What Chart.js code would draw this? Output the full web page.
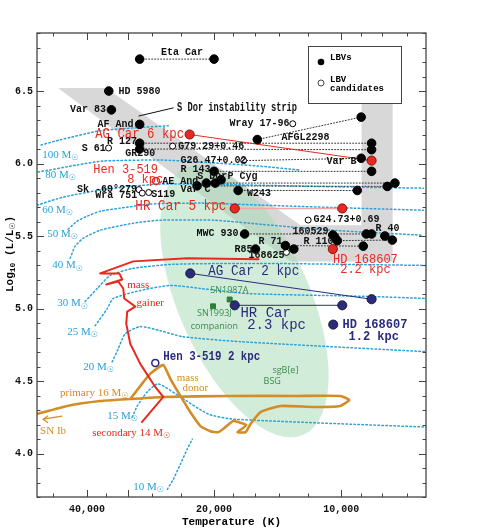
<!DOCTYPE html>
<html>
<head>
<meta charset="utf-8">
<script src="https://cdn.jsdelivr.net/npm/chart.js@4.4.0/dist/chart.umd.min.js"></script>
<style>
  html, body { margin: 0; padding: 0; background: #fff; }
</style>
</head>
<body>
<canvas id="hrd" width="499" height="528"></canvas>
<script>
// ---- data: [temperature K, log L] ----
const lbvStars = [
  [30000, 6.72], [20000, 6.72], [35500, 6.50], [35000, 6.37], [30000, 6.27],
  [30000, 6.14], [30000, 6.10], [15800, 6.165], [8970, 6.32], [8475, 6.14],
  [8475, 6.095], [8970, 6.036], [8475, 5.946], [20000, 5.946], [19250, 5.888],
  [19870, 5.865], [20860, 5.865], [21940, 5.846], [17540, 5.814], [7780, 5.842],
  [7463, 5.865], [9164, 5.814], [16930, 5.514], [10470, 5.507], [10355, 5.49],
  [10220, 5.468], [8724, 5.514], [8475, 5.514], [7883, 5.50], [7569, 5.472],
  [8870, 5.43], [13555, 5.434], [12950, 5.41], [15960, 5.41]
];
const lbvCandidates = [
  [35550, 6.107], [25070, 6.12], [13025, 6.274], [17020, 6.02], [30120, 5.82],
  [29580, 5.796], [28550, 5.80], [11975, 5.61], [13480, 5.387]
];
// dotted links between the hot and cool states of one star
const dottedLinks = [
  [[30000, 6.72], [20000, 6.72]],
  [[15800, 6.165], [8970, 6.32]],
  [[30000, 6.14], [8475, 6.14]],
  [[30000, 6.10], [8475, 6.095]],
  [[17020, 6.02], [8970, 6.036]],
  [[20000, 5.946], [8475, 5.946]],
  [[19870, 5.865], [7463, 5.865]],
  [[21940, 5.846], [7780, 5.842]],
  [[17540, 5.814], [9164, 5.814]],
  [[16930, 5.514], [8724, 5.514]],
  [[13555, 5.434], [8870, 5.43]],
  [[10220, 5.468], [7569, 5.472]]
];
const agCar6kpc = [[22850, 6.20], [8475, 6.02]];
const hrCar5kpc = [[17870, 5.69], [9945, 5.69]];
const hd168607far = [[10470, 5.41]];
const hen3519far = [[27450, 5.88]];
const agCar2kpc = [[22770, 5.242], [8475, 5.064]];
const hrCar23kpc = [[17870, 5.022], [9945, 5.022]];
const hd168607near = [[10446, 4.889]];
const hen3519near = [[27550, 4.625]];
const snCompanions = [[18370, 5.062], [20110, 5.015]];

// evolutionary tracks (single stars)
const track100 = [[51330, 6.128], [46290, 6.163], [37200, 6.226], [30720, 6.246], [25670, 6.26]];
const track80 = [[52180, 5.941], [42180, 5.99], [36600, 6.017], [26820, 6.024], [21540, 6.01], [15790, 5.983], [12485, 5.955]];
const track60 = [[52470, 5.713], [45520, 5.768], [37200, 5.817], [31070, 5.844], [26820, 5.858], [21540, 5.858], [12485, 5.844], [9350, 5.837], [6390, 5.83]];
const track50 = [[44300, 5.547], [42180, 5.602], [39930, 5.637], [37200, 5.671], [33360, 5.692], [28330, 5.72], [21540, 5.727], [15530, 5.713], [9350, 5.692], [6390, 5.678]];
const track40 = [[43820, 5.346], [42640, 5.43], [40820, 5.484], [37200, 5.54], [31070, 5.588], [26820, 5.609], [20000, 5.609], [15530, 5.581], [10600, 5.54], [6390, 5.505]];
const track30 = [[40370, 5.048], [37810, 5.138], [35220, 5.228], [31070, 5.277], [24970, 5.305], [15530, 5.311], [6290, 5.297]];
const track25 = [[38230, 4.882], [35780, 5.0], [34650, 5.069], [29900, 5.124], [25380, 5.159], [21540, 5.138], [16700, 5.103], [8525, 5.083], [6290, 5.069]];
const track20 = [[34850, 4.632], [33720, 4.722], [32460, 4.826], [29900, 4.875], [26820, 4.847], [23770, 4.806], [17320, 4.771], [6290, 4.702]];
const track15 = [[31240, 4.251], [30400, 4.328], [28790, 4.425], [27110, 4.48], [24030, 4.39], [20640, 4.272], [17990, 4.237], [6290, 4.182]];
const track10 = [[25800, 3.753], [24970, 3.822], [24030, 3.926], [23150, 4.03], [22520, 4.099]];
const trackMasses = ['100', '80', '60', '50', '40', '30', '25', '20', '15', '10'];

// binary model: secondary (mass gainer) and primary (mass donor)
const gainerTrack = [[29640, 4.217], [26380, 4.39], [27560, 4.459], [29900, 4.618], [31580, 4.757], [32280, 4.896], [32110, 4.979], [30720, 5.013], [32630, 5.069], [32810, 5.138], [33720, 5.186], [36000, 5.166], [32980, 5.2], [33530, 5.242], [37200, 5.242], [31070, 5.325], [23150, 5.346], [15700, 5.339]];
const donorTrack = [[31580, 4.376], [29900, 4.466], [28330, 4.549], [26380, 4.611], [25380, 4.514], [24030, 4.397], [22770, 4.286], [21540, 4.189], [20410, 4.154], [19560, 4.147], [18800, 4.182], [17990, 4.224], [16770, 4.196], [17600, 4.147], [16840, 4.147], [16400, 4.203], [15530, 4.286], [13920, 4.328], [11630, 4.321], [10050, 4.328], [9570, 4.369], [10050, 4.397], [12700, 4.397], [18290, 4.397], [26380, 4.39], [31580, 4.376], [37200, 4.362], [44540, 4.328], [52470, 4.272]];

// shaded regions
const sDorStrip = [[46800, 6.52], [36000, 6.52], [12485, 5.574], [8950, 5.574], [8950, 6.433], [7557, 6.433], [7557, 5.325], [13190, 5.325]];
const bsgCentre = [16950, 5.05];
const bsgTip = [12285, 4.13];

// axis ticks
const xTickValues = [48000, 40000, 36000, 32000, 28000, 24000, 20000, 18000, 16000, 14000, 12000, 10000, 9000, 8000, 7000];
const xTickLabelled = [40000, 20000, 10000];
const yTickLabelled = [4.0, 4.5, 5.0, 5.5, 6.0, 6.5];

// ---- styles ----
const RED = '#e8291f', NAVY = '#2b2b7d', BLUE = '#2aa0d8', ORANGE = '#d38c26', GREEN = '#2f7d3b';
const styles = {
  n:  { font: 'bold 10px "Liberation Mono"', color: '#111' },
  s:  { font: 'bold 12px "Liberation Mono"', color: '#111' },
  r:  { font: '14px "Liberation Mono"', color: RED },
  rm: { font: '12px "Liberation Mono"', color: RED },
  v:  { font: '14px "Liberation Mono"', color: NAVY },
  vm: { font: 'bold 12px "Liberation Mono"', color: NAVY },
  g:  { font: '9px "Open Sans"', color: '#3b8a4a' },
  t:  { font: '11px "Liberation Serif"', color: BLUE, sub: '8px "DejaVu Sans"' },
  o:  { font: '11px "Liberation Serif"', color: ORANGE, sub: '8px "DejaVu Sans"' },
  rs: { font: '11px "Liberation Serif"', color: RED, sub: '8px "DejaVu Sans"' }
};
// [text, T, logL, align, style, maxWidth]
const textLabels = [
  ['Eta Car', 23820, 6.765, 'center', 'n'],
  ['HD 5980', 33660, 6.50, 'left', 'n'],
  ['Var 83', 36060, 6.373, 'right', 'n'],
  ['S Dor instability strip', 24470, 6.384, 'left', 's', 120],
  ['AF And', 31020, 6.269, 'right', 'n'],
  ['AG Car 6 kpc', 38230, 6.204, 'left', 'r', 89],
  ['R 127', 35860, 6.149, 'left', 'n'],
  ['S 61', 41110, 6.107, 'left', 'n'],
  ['GR290', 32460, 6.066, 'left', 'n'],
  ['G79.29+0.46', 24300, 6.119, 'left', 'n'],
  ['Wray 17-96', 18390, 6.274, 'left', 'n'],
  ['AFGL2298', 13855, 6.177, 'left', 'n'],
  ['Var B', 9197, 6.015, 'right', 'n'],
  ['G26.47+0.02', 24030, 6.019, 'left', 'n'],
  ['R 143', 24030, 5.957, 'left', 'n'],
  ['S Dor', 21910, 5.913, 'left', 'n'],
  ['P Cyg', 18590, 5.913, 'left', 'n'],
  ['AE And', 26530, 5.879, 'left', 'n'],
  ['Var C', 24030, 5.819, 'left', 'n'],
  ['W243', 16710, 5.796, 'left', 'n'],
  ['Hen 3-519', 38650, 5.957, 'left', 'rm'],
  ['8 kpc', 32110, 5.886, 'left', 'rm'],
  ['Sk -69°279', 42240, 5.819, 'left', 'n'],
  ['Wra 751', 38230, 5.78, 'left', 'n'],
  ['S119', 28150, 5.789, 'left', 'n'],
  ['HR Car 5 kpc', 30720, 5.704, 'left', 'r', 91],
  ['MWC 930', 17510, 5.514, 'right', 'n'],
  ['G24.73+0.69', 11630, 5.611, 'left', 'n'],
  ['160529', 10720, 5.53, 'right', 'n'],
  ['R 71', 15700, 5.461, 'left', 'n'],
  ['R 110', 12290, 5.465, 'left', 'n'],
  ['R 40', 8294, 5.553, 'left', 'n'],
  ['R85', 16230, 5.41, 'right', 'n'],
  ['168625', 16580, 5.364, 'left', 'n'],
  ['HD 168607', 8765, 5.334, 'center', 'rm'],
  ['2.2 kpc', 8765, 5.265, 'center', 'rm'],
  ['AG Car 2 kpc', 20640, 5.256, 'left', 'v', 91],
  ['SN1987A', 20410, 5.126, 'left', 'g'],
  ['SN1993J', 19970, 4.965, 'center', 'g'],
  ['companion', 19970, 4.873, 'center', 'g'],
  ['HR Car', 17320, 4.965, 'left', 'v'],
  ['2.3 kpc', 16700, 4.884, 'left', 'v'],
  ['HD 168607', 9929, 4.889, 'left', 'vm'],
  ['1.2 kpc', 9610, 4.807, 'left', 'vm'],
  ['Hen 3-519 2 kpc', 26380, 4.665, 'left', 'vm', 97],
  ['sgB[e]', 14550, 4.572, 'left', 'g'],
  ['BSG', 15270, 4.496, 'left', 'g'],
  ['mass', 30230, 5.161, 'center', 'rs'],
  ['gainer', 28330, 5.034, 'center', 'rs'],
  ['mass', 23080, 4.521, 'center', 'o'],
  ['donor', 22150, 4.45, 'center', 'o'],
  ['primary 16 M☉', 46290, 4.416, 'left', 'o'],
  ['secondary 14 M☉', 38860, 4.139, 'left', 'rs'],
  ['SN Ib', 51620, 4.157, 'left', 'o']
];
const trackLabelPos = [[51050, 6.059], [50220, 5.92], [51050, 5.678], [49680, 5.512], [48340, 5.297], [47040, 5.034], [44540, 4.84], [40820, 4.598], [35800, 4.258], [31070, 3.767]];
const stripPointer = [[30190, 6.327], [24930, 6.384]];
const snIbArrow = [[45770, 4.258], [50780, 4.237]];

// ---- helpers ----
const pts = arr => arr.map(([t, l]) => ({ x: t, y: l }));
const lineSet = (arr, color, width, dash, order, tension) => ({
  data: pts(arr), showLine: true, borderColor: color, borderWidth: width,
  borderDash: dash || [], pointRadius: 0, tension: tension || 0, order: order,
  borderJoinStyle: 'round', borderCapStyle: 'round'
});

function drawLabel(ctx, x, y, item) {
  const [txt, t, l, align, key, maxW] = item;
  const st = styles[key];
  const px = x.getPixelForValue(t), py = y.getPixelForValue(l);
  ctx.font = st.font; ctx.fillStyle = st.color; ctx.textBaseline = 'middle';
  const parts = txt.split('☉');
  if (parts.length === 1) {
    ctx.textAlign = align;
    if (maxW) ctx.fillText(txt, px, py, maxW); else ctx.fillText(txt, px, py);
    return;
  }
  ctx.textAlign = 'left';
  ctx.fillText(parts[0], px, py);
  const w = ctx.measureText(parts[0]).width;
  ctx.font = st.sub;
  ctx.fillText('☉', px + w, py + 3);
}

const hrdDecor = {
  id: 'hrdDecor',
  beforeDatasetsDraw(chart) {
    const { ctx, chartArea: a, scales: { x, y } } = chart;
    ctx.save();
    ctx.beginPath(); ctx.rect(a.left, a.top, a.width, a.height); ctx.clip();
    ctx.fillStyle = '#d8d8d8';
    ctx.beginPath();
    sDorStrip.forEach(([t, l], i) => {
      const px = x.getPixelForValue(t), py = y.getPixelForValue(l);
      if (i) ctx.lineTo(px, py); else ctx.moveTo(px, py);
    });
    ctx.closePath(); ctx.fill();
    const cx = x.getPixelForValue(bsgCentre[0]), cy = y.getPixelForValue(bsgCentre[1]);
    const ex = x.getPixelForValue(bsgTip[0]), ey = y.getPixelForValue(bsgTip[1]);
    const ra = Math.hypot(ex - cx, ey - cy);
    ctx.fillStyle = 'rgba(165,218,182,0.5)';
    ctx.beginPath();
    ctx.ellipse(cx, cy, ra, ra * 0.45, Math.atan2(ey - cy, ex - cx), 0, Math.PI * 2);
    ctx.fill();
    ctx.restore();
  },
  afterDraw(chart) {
    const { ctx, chartArea: a, scales: { x, y } } = chart;
    ctx.save();
    // frame and inward ticks
    ctx.strokeStyle = '#444'; ctx.lineWidth = 1.3;
    ctx.strokeRect(a.left, a.top, a.width, a.height);
    ctx.lineWidth = 1;
    ctx.beginPath();
    xTickValues.forEach(v => {
      const px = Math.round(x.getPixelForValue(v)) + 0.5;
      const len = xTickLabelled.includes(v) || v === 32000 ? 7 : 3.5;
      ctx.moveTo(px, a.bottom); ctx.lineTo(px, a.bottom - len);
      ctx.moveTo(px, a.top); ctx.lineTo(px, a.top + len);
    });
    for (let k = 37; k <= 69; k++) {
      const py = Math.round(y.getPixelForValue(k / 10)) + 0.5;
      const len = k % 5 === 0 ? 7 : 3.5;
      ctx.moveTo(a.left, py); ctx.lineTo(a.left + len, py);
      ctx.moveTo(a.right, py); ctx.lineTo(a.right - len, py);
    }
    ctx.stroke();

    // pointer and arrow
    ctx.beginPath();
    ctx.strokeStyle = '#111';
    ctx.moveTo(x.getPixelForValue(stripPointer[0][0]), y.getPixelForValue(stripPointer[0][1]));
    ctx.lineTo(x.getPixelForValue(stripPointer[1][0]), y.getPixelForValue(stripPointer[1][1]));
    ctx.stroke();
    const ax0 = x.getPixelForValue(snIbArrow[0][0]), ay0 = y.getPixelForValue(snIbArrow[0][1]);
    const ax1 = x.getPixelForValue(snIbArrow[1][0]), ay1 = y.getPixelForValue(snIbArrow[1][1]);
    ctx.strokeStyle = ORANGE; ctx.lineWidth = 1.2;
    ctx.beginPath();
    ctx.moveTo(ax0, ay0); ctx.lineTo(ax1, ay1);
    ctx.moveTo(ax1 + 5, ay1 - 3.5); ctx.lineTo(ax1, ay1); ctx.lineTo(ax1 + 5, ay1 + 3.5);
    ctx.stroke();

    // labels
    textLabels.forEach(item => drawLabel(ctx, x, y, item));
    trackMasses.forEach((m, i) => drawLabel(ctx, x, y, [m + ' M☉', trackLabelPos[i][0], trackLabelPos[i][1], 'left', 't']));

    // legend box
    const lx = a.right - 118, ly = a.top + 13;
    ctx.fillStyle = '#fff'; ctx.strokeStyle = '#444'; ctx.lineWidth = 1;
    ctx.fillRect(lx, ly, 94, 58); ctx.strokeRect(lx + 0.5, ly + 0.5, 93, 57);
    ctx.fillStyle = '#000';
    ctx.beginPath(); ctx.arc(lx + 13, ly + 16, 3.3, 0, Math.PI * 2); ctx.fill();
    ctx.beginPath(); ctx.arc(lx + 13, ly + 37, 3, 0, Math.PI * 2); ctx.stroke();
    ctx.font = 'bold 9px "Liberation Mono"'; ctx.textAlign = 'left'; ctx.textBaseline = 'middle';
    ctx.fillText('LBVs', lx + 22, ly + 12);
    ctx.fillText('LBV', lx + 22, ly + 34);
    ctx.fillText('candidates', lx + 22, ly + 43);

    // axis titles
    ctx.font = 'bold 11px "Liberation Mono"'; ctx.textAlign = 'center';
    ctx.fillText('Temperature (K)', (a.left + a.right) / 2, 522);
    ctx.translate(10, (a.top + a.bottom) / 2 - 11);
    ctx.rotate(-Math.PI / 2);
    const segs = [['Log', 0], ['10', 1], [' (L/L', 0], ['☉', 1], [')', 0]];
    let total = 0;
    segs.forEach(([s, sub]) => { ctx.font = sub ? 'bold 8px "Liberation Mono"' : 'bold 11px "Liberation Mono"'; total += ctx.measureText(s).width; });
    let cur = -total / 2;
    ctx.textAlign = 'left';
    segs.forEach(([s, sub]) => {
      ctx.font = sub ? (s === '☉' ? '8px "DejaVu Sans"' : 'bold 8px "Liberation Mono"') : 'bold 11px "Liberation Mono"';
      ctx.fillText(s, cur, sub ? 3 : 0);
      cur += ctx.measureText(s).width;
    });
    ctx.restore();
  }
};

const datasets = [
  // points on top
  { data: pts(lbvStars), pointRadius: 4.3, pointBackgroundColor: '#000', pointBorderColor: '#000', order: 0 },
  { data: pts(lbvCandidates), pointRadius: 3, pointBackgroundColor: '#fff', pointBorderColor: '#000', pointBorderWidth: 1, order: 0 },
  { data: pts([agCar6kpc[0], agCar6kpc[1], hrCar5kpc[0], hrCar5kpc[1], hd168607far[0]]), pointRadius: 4.6, pointBackgroundColor: RED, pointBorderColor: '#600', pointBorderWidth: 0.8, order: 0 },
  { data: pts(hen3519far), pointRadius: 3.5, pointBackgroundColor: 'rgba(0,0,0,0)', pointBorderColor: RED, pointBorderWidth: 1.5, order: 0 },
  { data: pts([agCar2kpc[0], agCar2kpc[1], hrCar23kpc[0], hrCar23kpc[1], hd168607near[0]]), pointRadius: 4.6, pointBackgroundColor: NAVY, pointBorderColor: '#111', pointBorderWidth: 0.8, order: 0 },
  { data: pts(hen3519near), pointRadius: 3.5, pointBackgroundColor: 'rgba(0,0,0,0)', pointBorderColor: NAVY, pointBorderWidth: 1.5, order: 0 },
  { data: pts(snCompanions), pointStyle: 'rect', pointRadius: 3.5, pointBackgroundColor: GREEN, pointBorderColor: GREEN, order: 0 },
  // connecting lines
  lineSet(agCar6kpc, RED, 1, null, 1),
  lineSet(hrCar5kpc, '#f4a6a4', 1.6, null, 1),
  lineSet(agCar2kpc, NAVY, 1, null, 1),
  lineSet(hrCar23kpc, NAVY, 1, null, 1),
  ...dottedLinks.map(p => lineSet(p, '#333', 1, [1, 2], 2)),
  // binary tracks
  lineSet(gainerTrack, RED, 2, null, 3),
  lineSet(donorTrack, ORANGE, 2.6, null, 3, 0.15),
  // single-star tracks
  ...[track100, track80, track60, track50, track40, track30, track25, track20, track15, track10]
    .map(tr => lineSet(tr, BLUE, 1.5, [1.5, 2.5], 4, 0.2))
];

new Chart(document.getElementById('hrd').getContext('2d'), {
  type: 'scatter',
  data: { datasets },
  options: {
    responsive: false,
    animation: false,
    layout: { padding: { top: 33, right: 73, left: 0, bottom: 0 } },
    plugins: { legend: { display: false }, tooltip: { enabled: false } },
    scales: {
      x: {
        type: 'logarithmic', reverse: true, min: 6300, max: 52500,
        grid: { display: false, drawTicks: false }, border: { display: false },
        afterBuildTicks: s => { s.ticks = xTickValues.map(v => ({ value: v })); },
        afterFit: s => { s.height = 31; },
        ticks: {
          autoSkip: false, maxRotation: 0, padding: 6, color: '#111',
          font: { family: 'Liberation Mono', weight: 'bold', size: 10 },
          callback: v => xTickLabelled.includes(v) ? v.toLocaleString('en-US') : ''
        }
      },
      y: {
        min: 3.7, max: 6.9,
        grid: { display: false, drawTicks: false }, border: { display: false },
        afterBuildTicks: s => { s.ticks = yTickLabelled.map(v => ({ value: v })); },
        afterFit: s => { s.width = 37; },
        ticks: {
          padding: 4, color: '#111',
          font: { family: 'Liberation Mono', weight: 'bold', size: 10 },
          callback: v => v.toFixed(1)
        }
      }
    }
  },
  plugins: [hrdDecor]
});
</script>
</body>
</html>
